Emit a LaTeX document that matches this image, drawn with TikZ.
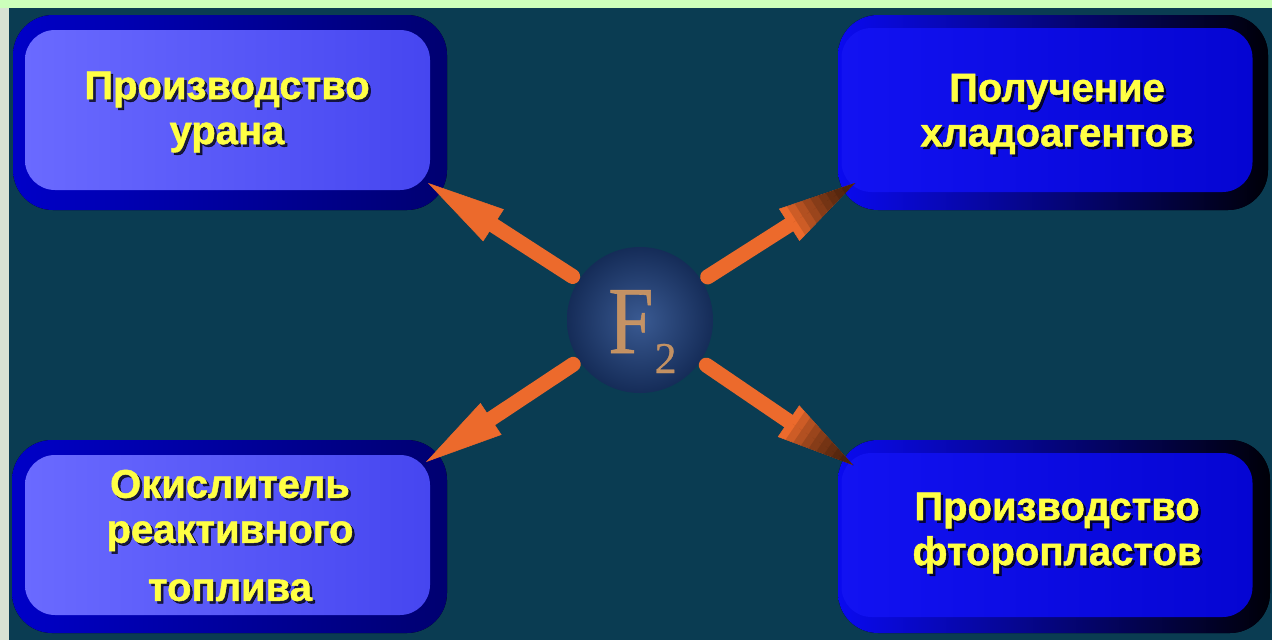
\documentclass[tikz,border=0pt]{standalone}
\usepackage{fontspec}
\usepackage{graphicx}
\setmainfont{Liberation Sans}
\newfontfamily\lblfont[BoldFeatures={FakeBold=1.2}]{Liberation Sans}
\newfontfamily\serifF[FakeBold=0.6]{Liberation Serif}
\usetikzlibrary{arrows.meta,calc}
\definecolor{bgc}{HTML}{0A3C52}
\definecolor{grnT}{HTML}{CCFFBB}
\definecolor{grnL}{HTML}{D8E2D4}
\definecolor{lboxA}{HTML}{6A6AFF}
\definecolor{lboxB}{HTML}{4646F0}
\definecolor{lrimA}{HTML}{0000C8}
\definecolor{lrimB}{HTML}{000070}
\definecolor{rboxA}{HTML}{1212F2}
\definecolor{rboxB}{HTML}{0505D2}
\definecolor{rrimA}{HTML}{0A0AF0}
\definecolor{rrimB}{HTML}{000008}
\definecolor{txtY}{HTML}{FFFF44}
\definecolor{arrc}{HTML}{EC6A2C}
\definecolor{sphI}{HTML}{3A5A92}
\definecolor{sphO}{HTML}{152C58}
\definecolor{copper}{HTML}{D49A62}
\begin{document}
\begin{tikzpicture}[x=1pt,y=-1pt,
  lbl/.style={font=\lblfont\bfseries\fontsize{40}{45}\selectfont, align=center, inner sep=0pt, text=txtY},
  lblsh/.style={lbl, text=black, opacity=0.75},
  lbox/.style={rounded corners=30pt, minimum width=405pt, minimum height=160pt, inner sep=0pt,
    left color=lboxA, right color=lboxB},
  rbox/.style={rounded corners=30pt, minimum width=411pt, minimum height=164pt, inner sep=0pt,
    left color=rboxA, right color=rboxB},
  lrim/.style={rounded corners=40pt, left color=lrimA, right color=lrimB},
  rrim/.style={rounded corners=40pt, left color=rrimA, right color=rrimB},
  arr/.style={draw=arrc, line width=15pt, line cap=round, shorten <=7pt,
    -{Triangle[length=78pt,width=38pt,line width=0.5pt]}},
]
\useasboundingbox (0,0) rectangle (1272,640);
% background and green frame
\fill[bgc] (0,0) rectangle (1272,640);
\fill[grnL] (0,0) rectangle (9,640);
\fill[grnT] (0,0) rectangle (1272,8);

% outer rims
\fill[lrim] (13,15) rectangle (447,210);
\fill[lrim] (12,440) rectangle (447,633);
\fill[rrim] (838,15) rectangle (1268,210);
\fill[rrim] (838,440) rectangle (1270,633);

% boxes
\node[lbox] (tl) at (227.5,110) {};
\node[lbox] (bl) at (227.5,535) {};
\node[rbox] (tr) at (1047,110) {};
\node[rbox] (br) at (1047,535) {};

% sphere
\node[circle, minimum size=146pt, inner sep=0pt, inner color=sphI, outer color=sphO] (f2) at (640,320) {};
\node[anchor=base west, inner sep=0pt, text=copper, opacity=0.9,
  font=\serifF\fontsize{96}{96}\selectfont] (f2t) at (608,353)
  {\scalebox{0.85}[1]{F}\kern1pt\raisebox{-20pt}{\fontsize{44}{44}\selectfont 2}};

% arrow tips
\coordinate (tTL) at (428,183);
\coordinate (tTR) at (855,183);
\coordinate (tBL) at (426,462);
\coordinate (tBR) at (853,465);

\draw[arr] (f2) -- (tTL);
\draw[arr] (f2) -- (tTR);
\draw[arr] (f2) -- (tBL);
\draw[arr] (f2) -- (tBR);
\foreach \t in {tTR,tBR}{
  \foreach \L in {70,62,54,46,38,30,22,14}{
    \pgfmathsetmacro{\W}{38*\L/78}
    \draw[black, opacity=0.13, line width=0.1pt,
      -{Triangle[length=\L pt,width=\W pt,line width=0pt]}]
      ($(\t)!\L pt+3pt!(f2)$) -- (\t);
  }
}

% labels
\node[lblsh] (tlS) at (229.5,114.5) {Производство\\урана};
\node[lbl]   (tlT) at (227,112) {Производство\\урана};
\node[lblsh] (trS) at (1059.5,116.5) {Получение\\хладоагентов};
\node[lbl]   (trT) at (1057,114) {Получение\\хладоагентов};
\node[lblsh] (blS) at (232.5,538) {Окислитель\\реактивного\\[13pt]топлива};
\node[lbl]   (blT) at (230,535.5) {Окислитель\\реактивного\\[13pt]топлива};
\node[lblsh] (brS) at (1059.5,535.5) {Производство\\фторопластов};
\node[lbl]   (brT) at (1057,533) {Производство\\фторопластов};
\end{tikzpicture}
\end{document}
